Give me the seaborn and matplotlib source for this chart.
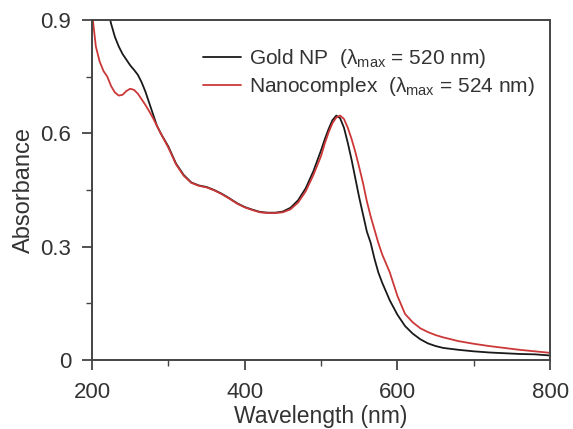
import numpy as np
import pandas as pd
import matplotlib
matplotlib.use("Agg")
import matplotlib.pyplot as plt
from matplotlib.ticker import MultipleLocator
import seaborn as sns

wavelength = [200, 205, 210, 215, 220, 225, 230, 235, 240, 245, 250, 255, 260, 265,
              270, 275, 280, 285, 290, 300, 310, 320, 330, 340, 350, 360, 370, 380,
              390, 400, 410, 420, 430, 440, 450, 460, 470, 480, 490, 500, 505, 510,
              515, 520, 525, 530, 535, 540, 545, 550, 555, 560, 565, 570, 575, 580,
              590, 600, 610, 620, 630, 640, 650, 660, 680, 700, 720, 740, 760, 780, 800]

gold_np = [1.25, 1.15, 1.06, 0.99, 0.935, 0.89, 0.855, 0.83, 0.81, 0.795, 0.78, 0.768,
           0.755, 0.735, 0.71, 0.68, 0.65, 0.62, 0.60, 0.565, 0.52, 0.49, 0.47, 0.462,
           0.458, 0.45, 0.44, 0.428, 0.415, 0.405, 0.398, 0.392, 0.39, 0.39, 0.393,
           0.403, 0.423, 0.455, 0.50, 0.555, 0.585, 0.612, 0.635, 0.647, 0.64, 0.615,
           0.575, 0.53, 0.48, 0.43, 0.385, 0.34, 0.31, 0.268, 0.232, 0.205, 0.158,
           0.12, 0.09, 0.07, 0.055, 0.044, 0.037, 0.032, 0.027, 0.023, 0.02, 0.018,
           0.016, 0.015, 0.012]

nanocomplex = [0.92, 0.83, 0.79, 0.765, 0.75, 0.725, 0.708, 0.70, 0.702, 0.712, 0.718,
               0.715, 0.705, 0.69, 0.675, 0.658, 0.64, 0.62, 0.60, 0.562, 0.518, 0.488,
               0.469, 0.461, 0.457, 0.449, 0.439, 0.427, 0.414, 0.404, 0.397, 0.391,
               0.389, 0.389, 0.391, 0.399, 0.417, 0.447, 0.49, 0.54, 0.574, 0.603,
               0.627, 0.642, 0.647, 0.638, 0.615, 0.585, 0.55, 0.51, 0.468, 0.42, 0.38,
               0.345, 0.31, 0.28, 0.232, 0.17, 0.122, 0.1, 0.084, 0.074, 0.066, 0.06,
               0.05, 0.043, 0.037, 0.032, 0.027, 0.023, 0.019]

labels = [r"Gold NP  ($\lambda_{\rm max}$ = 520 nm)",
          r"Nanocomplex  ($\lambda_{\rm max}$ = 524 nm)"]

df = pd.concat([
    pd.DataFrame({"Wavelength": wavelength, "Absorbance": gold_np, "Sample": labels[0]}),
    pd.DataFrame({"Wavelength": wavelength, "Absorbance": nanocomplex, "Sample": labels[1]}),
])

sns.set_theme(style="ticks")
plt.rcParams["font.family"] = ["Liberation Sans", "DejaVu Sans"]
plt.rcParams["mathtext.fontset"] = "custom"
plt.rcParams["mathtext.rm"] = "Liberation Sans"
plt.rcParams["mathtext.it"] = "Liberation Sans"

text_color = "#333333"
fig = plt.figure(figsize=(5.73, 4.29), dpi=100)
ax = fig.add_axes([0.1606, 0.1608, 0.7994, 0.7926])

sns.lineplot(data=df, x="Wavelength", y="Absorbance", hue="Sample",
             palette={labels[0]: "#1a1a1a", labels[1]: "#cc3838"},
             linewidth=1.3, ax=ax, sort=False)

ax.set_xlim(200, 800)
ax.set_ylim(0, 0.9)
ax.xaxis.set_major_locator(MultipleLocator(200))
ax.xaxis.set_minor_locator(MultipleLocator(100))
ax.yaxis.set_minor_locator(MultipleLocator(0.15))
ax.set_yticks([0, 0.3, 0.6, 0.9])
ax.set_yticklabels(["0", "0.3", "0.6", "0.9"])

ax.set_xlabel("Wavelength (nm)", fontsize=16.5, color=text_color, labelpad=1)
ax.set_ylabel("Absorbance", fontsize=17, color=text_color, labelpad=4)
ax.tick_params(axis="both", which="major", direction="out", length=7, width=1.3,
               labelsize=16, colors="#444444", labelcolor=text_color)
ax.tick_params(axis="x", which="major", pad=9)
ax.tick_params(axis="y", which="major", pad=8)
ax.tick_params(axis="both", which="minor", direction="out", length=4, width=1.0,
               colors="#444444")
ax.tick_params(top=False, right=False, which="both")
for s in ax.spines.values():
    s.set_linewidth(1.4)
    s.set_color("#444444")

leg = ax.legend(loc="upper right", bbox_to_anchor=(0.985, 0.945), borderaxespad=0,
                frameon=False, fontsize=15, handlelength=1.8, handletextpad=0.4,
                labelspacing=0.25, title=None)
for t in leg.get_texts():
    t.set_color(text_color)

fig.savefig("out.png", dpi=100)
